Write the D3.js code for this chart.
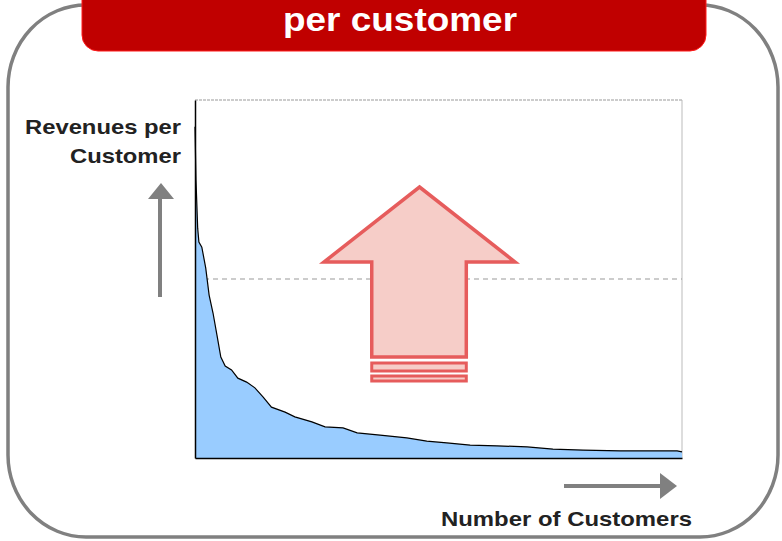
<!DOCTYPE html>
<head>
  <meta charset="utf-8">
  <script src="https://d3js.org/d3.v7.min.js"></script>
  <style>
    body { margin: 0; background: #fff; }
    text { font-family: "Liberation Sans", Arial, sans-serif; font-weight: bold; }
  </style>
</head>
<body>
  <svg width="782" height="541"></svg>
  <script>
    // customer rank (% of customers) and revenue per customer (% of max scale)
    const customerShare = [0, 0.2, 0.55, 0.8, 1.4, 2.2, 2.9, 3.7, 4.5, 5.3, 6.2, 7.5, 8.8,
      10.6, 12.3, 14.0, 15.7, 18.5, 20.5, 24.0, 26.7, 30.4, 33.3, 38.0, 43.5, 47.6,
      51.7, 56.5, 62.0, 68.2, 73.5, 79.7, 87.3, 99.0, 100];
    const revenue = [92.5, 77.7, 64.2, 60.3, 58.9, 53.1, 45.5, 40.5, 34.4, 28.2, 25.7,
      24.6, 22.3, 21.2, 19.6, 17.0, 14.2, 12.8, 11.5, 10.1, 8.7, 8.4, 7.0, 6.4, 5.6,
      4.7, 4.2, 3.6, 3.4, 3.1, 2.5, 2.2, 2.0, 2.0, 1.7];
    const averageRevenue = 50;
    const title = 'per customer';
    const yLabel = ['Revenues per', 'Customer'];
    const xLabel = 'Number of Customers';

    const data = customerShare.map((c, i) => ({ c, r: revenue[i] }));

    const svg = d3.select('svg');

    // outer frame
    svg.append('rect')
      .attr('x', 8).attr('y', 5).attr('width', 770).attr('height', 532)
      .attr('rx', 78).attr('ry', 82)
      .attr('fill', '#fff').attr('stroke', '#808080').attr('stroke-width', 3.5);

    // title banner
    svg.append('rect')
      .attr('x', 82).attr('y', -30).attr('width', 624).attr('height', 81)
      .attr('rx', 16)
      .attr('fill', '#c00000').attr('stroke', '#ff1a1a').attr('stroke-width', 1);
    svg.append('text')
      .attr('x', 400).attr('y', 31)
      .attr('text-anchor', 'middle')
      .attr('fill', '#fff').attr('font-size', 34)
      .attr('textLength', 234).attr('lengthAdjust', 'spacingAndGlyphs')
      .text(title);

    const x0 = 195, x1 = 682, y0 = 458, y1 = 100;
    const x = d3.scaleLinear().domain([0, 100]).range([x0, x1]);
    const y = d3.scaleLinear().domain([0, 100]).range([y0, y1]);

    // frame: top and right light
    svg.append('line')
      .attr('x1', x0).attr('x2', x1).attr('y1', y1).attr('y2', y1)
      .attr('stroke', '#999').attr('stroke-width', 1).attr('stroke-dasharray', '3,1');
    svg.append('line')
      .attr('x1', x1).attr('x2', x1).attr('y1', y1).attr('y2', y0)
      .attr('stroke', '#bbb').attr('stroke-width', 1);

    // average line
    svg.append('line')
      .attr('x1', x(0)).attr('x2', x(100))
      .attr('y1', y(averageRevenue)).attr('y2', y(averageRevenue))
      .attr('stroke', '#999').attr('stroke-width', 1).attr('stroke-dasharray', '5,4');

    const area = d3.area()
      .x(d => x(d.c)).y0(y(0)).y1(d => y(d.r));
    const line = d3.line()
      .x(d => x(d.c)).y(d => y(d.r));

    svg.append('path').datum(data)
      .attr('d', area).attr('fill', '#99ccff');
    svg.append('path').datum(data)
      .attr('d', line).attr('fill', 'none')
      .attr('stroke', '#000').attr('stroke-width', 1.2);

    // axes (no ticks)
    svg.append('g').attr('transform', `translate(0,${y0})`)
      .call(d3.axisBottom(x).tickValues([]).tickSizeOuter(0))
      .select('.domain').attr('stroke', '#000').attr('stroke-width', 1.5);
    svg.append('g').attr('transform', `translate(${x0},0)`)
      .call(d3.axisLeft(y).tickValues([]).tickSizeOuter(0))
      .select('.domain').attr('stroke', '#000').attr('stroke-width', 1.5);

    // big up arrow
    const arrowFill = '#f6cdc8', arrowStroke = '#e65c5c';
    const ax = d3.scaleLinear().domain([0, 1]).range([324, 515]);
    const arrow = [[0.5, 187], [1, 262], [0.745, 262], [0.745, 357],
      [0.25, 357], [0.25, 262], [0, 262]];
    svg.append('path')
      .attr('d', d3.line().x(d => ax(d[0])).y(d => d[1])(arrow) + 'Z')
      .attr('fill', arrowFill).attr('stroke', arrowStroke)
      .attr('stroke-width', 3.5).attr('stroke-linejoin', 'miter');
    [[363, 371], [376, 381]].forEach(([t, b]) => {
      svg.append('rect')
        .attr('x', ax(0.25)).attr('y', t)
        .attr('width', ax(0.745) - ax(0.25)).attr('height', b - t)
        .attr('fill', arrowFill).attr('stroke', arrowStroke).attr('stroke-width', 3);
    });

    // axis direction arrows
    const grey = '#808080';
    svg.append('line').attr('x1', 160).attr('x2', 160).attr('y1', 297).attr('y2', 197)
      .attr('stroke', grey).attr('stroke-width', 4);
    svg.append('path').attr('d', 'M148,199L161,183L174,199Z').attr('fill', grey);
    svg.append('line').attr('x1', 564).attr('x2', 662).attr('y1', 486).attr('y2', 486)
      .attr('stroke', grey).attr('stroke-width', 4);
    svg.append('path').attr('d', 'M660,473L677,486L660,499Z').attr('fill', grey);

    // labels
    const yLabelWidth = [156, 111];
    svg.append('text')
      .attr('text-anchor', 'end').attr('font-size', 21).attr('fill', '#222')
      .selectAll('tspan').data(yLabel).join('tspan')
      .attr('x', 181).attr('y', (d, i) => 134 + i * 29)
      .attr('textLength', (d, i) => yLabelWidth[i]).attr('lengthAdjust', 'spacingAndGlyphs')
      .text(d => d);
    svg.append('text')
      .attr('x', 692).attr('y', 526)
      .attr('text-anchor', 'end').attr('font-size', 21).attr('fill', '#222')
      .attr('textLength', 251).attr('lengthAdjust', 'spacingAndGlyphs')
      .text(xLabel);
  </script>
</body>
